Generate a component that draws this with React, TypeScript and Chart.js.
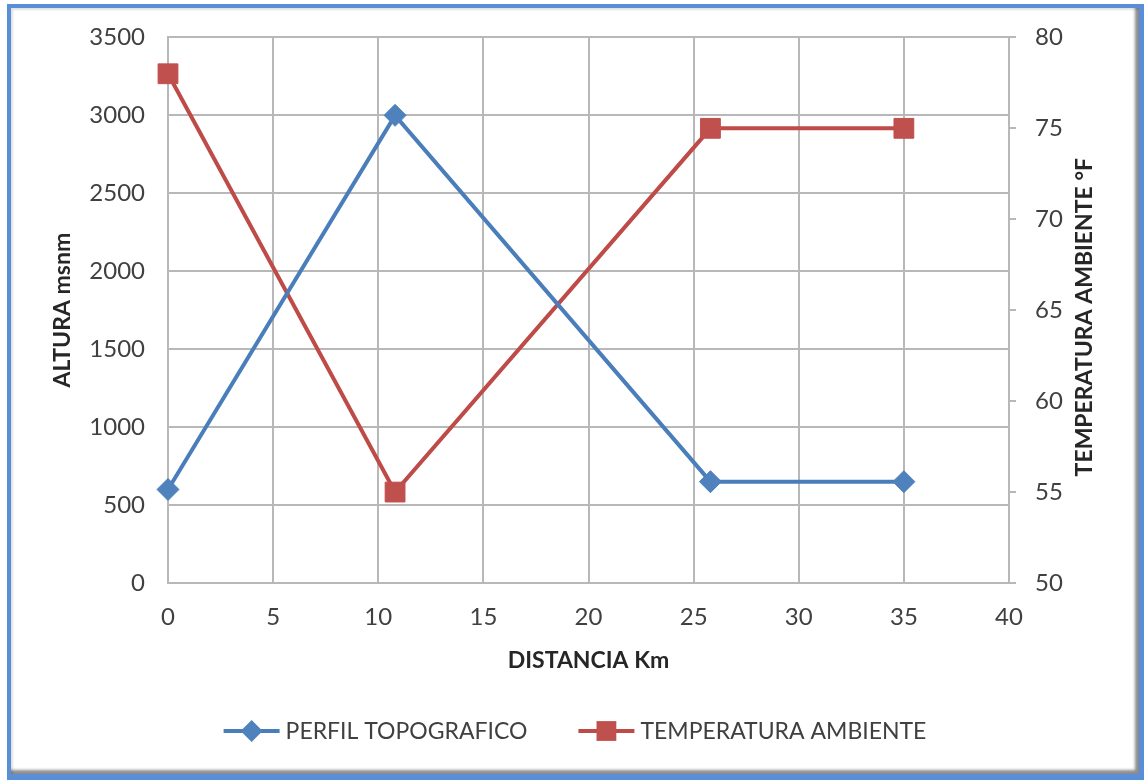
import React, { useEffect, useRef } from "react";
import { Chart, registerables } from "chart.js";

Chart.register(...registerables);

// Distance along the route (km) and the two measured series
const distanciaKm = [0, 10.8, 25.8, 35];
const alturaMsnm = [600, 3000, 650, 650];
const temperaturaF = [78, 55, 75, 75];

const seriesLabels = ["PERFIL TOPOGRAFICO", "TEMPERATURA AMBIENTE"];
const axisTitles = ["DISTANCIA Km", "ALTURA msnm", "TEMPERATURA AMBIENTE °F"];

const BLUE_LINE = "#4a7ebb";
const BLUE_FILL = "#4f81bd";
const RED_LINE = "#be4b48";
const RED_FILL = "#c0504d";
const GRID = "#b8b8b8";
const TICK_TEXT = "#404040";
const TITLE_TEXT = "#262626";
const FONT = "Lato, 'Open Sans', sans-serif";

const plainNumber = (v: any) => String(v);

function drawMarker(ctx: CanvasRenderingContext2D, style: string, x: number, y: number, r: number, fill: string) {
  ctx.beginPath();
  if (style === "rectRot") {
    ctx.moveTo(x - r, y);
    ctx.lineTo(x, y - r);
    ctx.lineTo(x + r, y);
    ctx.lineTo(x, y + r);
  } else {
    const h = r * Math.SQRT1_2;
    ctx.rect(x - h, y - h, 2 * h, 2 * h);
  }
  ctx.closePath();
  ctx.fillStyle = fill;
  ctx.fill();
}

// Legend row: a short line with its marker, followed by the series name
const legendRow = {
  id: "legendRow",
  afterDraw(chart: any) {
    const ctx: CanvasRenderingContext2D = chart.ctx;
    const sampleW = 56;
    const textGap = 6;
    const itemGap = 51;
    ctx.save();
    ctx.font = `23px ${FONT}`;
    const items = chart.data.datasets.map((ds: any) => ({ ds, w: ctx.measureText(ds.label).width }));
    const total =
      items.reduce((s: number, it: any) => s + sampleW + textGap + it.w, 0) + itemGap * (items.length - 1);
    let x = chart.width / 2 + 3 - total / 2;
    const y = 731;
    items.forEach((it: any) => {
      const ds = it.ds;
      ctx.strokeStyle = ds.borderColor;
      ctx.lineWidth = 4;
      ctx.beginPath();
      ctx.moveTo(x, y);
      ctx.lineTo(x + sampleW, y);
      ctx.stroke();
      drawMarker(ctx, ds.pointStyle, x + sampleW / 2, y, ds.pointStyle === "rect" ? 14 : 11, ds.pointBackgroundColor);
      ctx.fillStyle = TICK_TEXT;
      ctx.textBaseline = "middle";
      ctx.textAlign = "left";
      ctx.fillText(ds.label, x + sampleW + textGap, y + 1);
      x += sampleW + textGap + it.w + itemGap;
    });
    ctx.restore();
  },
};

// Secondary axis title, reading bottom to top
const rightTitle = {
  id: "rightTitle",
  afterDraw(chart: any) {
    const ctx: CanvasRenderingContext2D = chart.ctx;
    const scale = chart.scales.y1;
    const area = chart.chartArea;
    ctx.save();
    ctx.translate(scale.left + 76, (area.top + area.bottom) / 2 + 7);
    ctx.rotate(-Math.PI / 2);
    ctx.font = `bold 23px ${FONT}`;
    ctx.fillStyle = TITLE_TEXT;
    ctx.textAlign = "center";
    ctx.textBaseline = "middle";
    ctx.fillText(axisTitles[2], 0, 0);
    ctx.restore();
  },
};

export default function App() {
  const canvasRef = useRef<HTMLCanvasElement | null>(null);

  useEffect(() => {
    if (!canvasRef.current) return;
    const chart = new Chart(canvasRef.current, {
      type: "line",
      data: {
        datasets: [
          {
            label: seriesLabels[0],
            data: distanciaKm.map((x, i) => ({ x, y: alturaMsnm[i] })),
            borderColor: BLUE_LINE,
            backgroundColor: BLUE_FILL,
            pointBackgroundColor: BLUE_FILL,
            pointBorderColor: BLUE_FILL,
            pointStyle: "rectRot",
            pointRadius: 11,
            pointBorderWidth: 1,
            borderWidth: 4,
            tension: 0,
            clip: false,
            yAxisID: "y",
          },
          {
            label: seriesLabels[1],
            data: distanciaKm.map((x, i) => ({ x, y: temperaturaF[i] })),
            borderColor: RED_LINE,
            backgroundColor: RED_FILL,
            pointBackgroundColor: RED_FILL,
            pointBorderColor: RED_FILL,
            pointStyle: "rect",
            pointRadius: 14,
            pointBorderWidth: 1,
            borderWidth: 4,
            tension: 0,
            clip: false,
            yAxisID: "y1",
          },
        ],
      },
      options: {
        responsive: false,
        animation: false,
        layout: { padding: { left: 40, right: 35, top: 37, bottom: 97 } },
        plugins: {
          legend: { display: false },
          tooltip: { enabled: false },
        },
        scales: {
          x: {
            type: "linear",
            min: 0,
            max: 40,
            ticks: {
              stepSize: 5,
              color: TICK_TEXT,
              font: { family: FONT, size: 24 },
              padding: 20,
              maxRotation: 0,
              callback: plainNumber,
            },
            grid: { color: GRID, lineWidth: 2, drawTicks: false },
            border: { color: GRID, width: 2 },
            title: {
              display: true,
              text: axisTitles[0],
              color: TITLE_TEXT,
              font: { family: FONT, size: 23, weight: "bold" },
              padding: { top: 0, bottom: 9 },
            },
            afterFit(scale: any) {
              scale.height = 100;
            },
          },
          y: {
            type: "linear",
            position: "left",
            min: 0,
            max: 3500,
            ticks: {
              stepSize: 500,
              color: TICK_TEXT,
              font: { family: FONT, size: 24 },
              padding: 23,
              callback: plainNumber,
            },
            grid: { color: GRID, lineWidth: 2, drawTicks: false },
            border: { color: GRID, width: 2 },
            title: {
              display: true,
              text: axisTitles[1],
              color: TITLE_TEXT,
              font: { family: FONT, size: 23, weight: "bold" },
              padding: { top: 9, bottom: 0 },
            },
            afterFit(scale: any) {
              scale.width = 128;
            },
          },
          y1: {
            type: "linear",
            position: "right",
            min: 50,
            max: 80,
            ticks: {
              stepSize: 5,
              color: TICK_TEXT,
              font: { family: FONT, size: 24 },
              padding: 19,
              callback: plainNumber,
            },
            grid: { drawOnChartArea: false, drawTicks: true, tickLength: 7, color: GRID, lineWidth: 2 },
            border: { color: GRID, width: 2 },
            afterFit(scale: any) {
              scale.width = 100;
            },
          },
        },
      },
      plugins: [legendRow, rightTitle],
    } as any);
    return () => chart.destroy();
  }, []);

  return (
    <div style={{ position: "fixed", left: 0, top: 0, width: 1144, height: 780, background: "#ffffff" }}>
      <div
        style={{
          position: "absolute",
          left: 7,
          top: 4,
          width: 1137,
          height: 776,
          boxSizing: "border-box",
          borderStyle: "solid",
          borderColor: "#5a8ed6",
          borderWidth: "4px 5px 6px 4px",
          background: "#ffffff",
          boxShadow: "inset -4px -4px 3px rgba(0,0,0,0.45), inset 2px 2px 2px rgba(0,0,0,0.12)",
        }}
      />
      <canvas
        ref={canvasRef}
        width={1144}
        height={780}
        style={{ position: "absolute", left: 0, top: 0, width: 1144, height: 780 }}
      />
    </div>
  );
}
